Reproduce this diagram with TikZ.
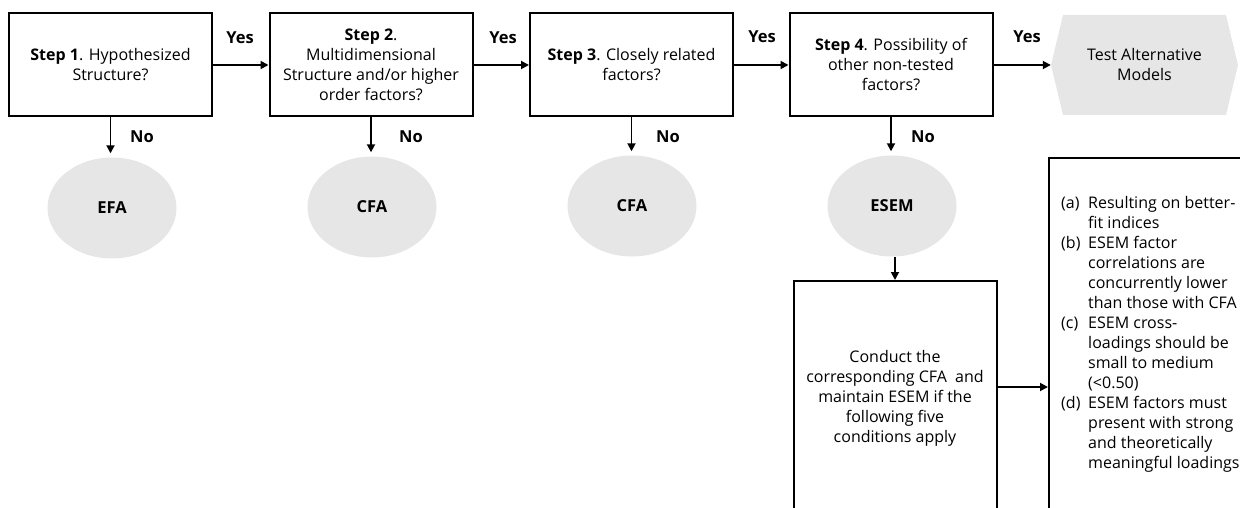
\documentclass[tikz,border=0pt]{standalone}
\usepackage{fontspec}
\setmainfont{Open Sans}
\usetikzlibrary{arrows.meta,shapes.geometric}
\definecolor{ovalgray}{HTML}{E6E6E6}
\begin{document}
\begin{tikzpicture}[x=1pt,y=-1pt,
  stepbox/.style={draw, line width=2pt, minimum width=203pt, minimum height=103pt, align=center, inner sep=2pt, font=\fontsize{16}{20}\selectfont},
  oval/.style={ellipse, fill=ovalgray, minimum width=129pt, minimum height=101pt, inner sep=0pt, font=\bfseries\fontsize{16.5}{18}\selectfont},
  arr/.style={line width=1.8pt, -{Triangle[length=8pt,width=8pt]}},
  lbl/.style={font=\bfseries\fontsize{16.5}{18}\selectfont, inner sep=0pt},
  txt/.style={font=\fontsize{16}{20}\selectfont}
]
\useasboundingbox (0,0) rectangle (1240,508);
\clip (0,0) rectangle (1240,508);

% step boxes
\node[stepbox] (s1) at (110.5,64.5) {\textbf{Step 1}. Hypothesized\\Structure?};
\node[stepbox] (s2) at (371,64.5) {\textbf{Step 2}.\\Multidimensional\\Structure and/or higher\\order factors?};
\node[stepbox] (s3) at (631.5,64.5) {\textbf{Step 3}. Closely related\\factors?};
\node[stepbox] (s4) at (891,64.5) {\textbf{Step 4}. Possibility of\\other non-tested\\factors?};

% hexagon
\fill[ovalgray] (1051,65) -- (1063,15) -- (1226,15) -- (1238,65) -- (1226,115) -- (1063,115) -- cycle;
\node[txt, minimum width=187pt, minimum height=100pt, align=center, inner sep=0pt] (alt) at (1144.5,65) {Test Alternative\\Models};

% ovals
\node[oval] (efa) at (112,208) {EFA};
\node[oval] (cfa1) at (372,207) {CFA};
\node[oval] (cfa2) at (632,206) {CFA};
\node[oval] (esem) at (892,206) {ESEM};

% lower boxes
\node[stepbox, minimum height=234pt] (cond) at (895,398) {Conduct the\\corresponding CFA\ \ and\\maintain ESEM if the\\following five\\conditions apply};
\node[draw, line width=2pt, minimum width=220pt, minimum height=370pt, inner sep=0pt, anchor=north west] (crit) at (1048,157) {};
\node[txt, anchor=north west, align=left, inner sep=0pt] (list) at (1061,196) {%
\makebox[27pt][l]{(a)}Resulting on better-\\
\hspace*{27pt}fit indices\\
\makebox[27pt][l]{(b)}ESEM factor\\
\hspace*{27pt}correlations are\\
\hspace*{27pt}concurrently lower\\
\hspace*{27pt}than those with CFA\\
\makebox[27pt][l]{(c)}ESEM cross-\\
\hspace*{27pt}loadings should be\\
\hspace*{27pt}small to medium\\
\hspace*{27pt}(<0.50)\\
\makebox[27pt][l]{(d)}ESEM factors must\\
\hspace*{27pt}present with strong\\
\hspace*{27pt}and theoretically\\
\hspace*{27pt}meaningful loadings};

% yes arrows
\coordinate (h) at (0,65);
\draw[arr] (s1.east |- h) -- (s2.west |- h);
\draw[arr] (s2.east |- h) -- (s3.west |- h);
\draw[arr] (s3.east |- h) -- (s4.west |- h);
\draw[arr] (s4.east |- h) -- (alt.west |- h);
\node[lbl] (y1) at (240,38) {Yes};
\node[lbl] (y2) at (503,38) {Yes};
\node[lbl] (y3) at (762,37) {Yes};
\node[lbl] (y4) at (1027,37) {Yes};

% no arrows
\draw[arr, shorten >=4pt] (s1.south) -- (s1.south |- efa.north);
\draw[arr, shorten >=4pt] (s2.south) -- (s2.south |- cfa1.north);
\draw[arr, shorten >=4pt] (s3.south) -- (s3.south |- cfa2.north);
\draw[arr, shorten >=4pt] (s4.south) -- (s4.south |- esem.north);
\node[lbl] (n1) at (142,137) {No};
\node[lbl] (n2) at (411,137) {No};
\node[lbl] (n3) at (668,137) {No};
\node[lbl] (n4) at (923,137) {No};

% esem to conduct, conduct to criteria
\draw[arr] (esem.south -| cond.north) -- (cond.north);
\coordinate (m) at (0,387);
\draw[arr] (cond.east |- m) -- (crit.west |- m);
\end{tikzpicture}
\end{document}
